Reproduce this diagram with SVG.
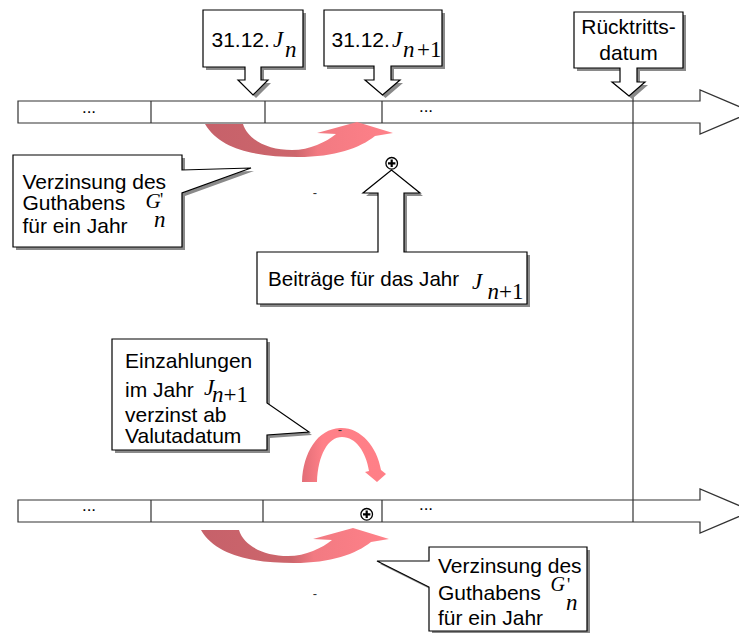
<svg xmlns="http://www.w3.org/2000/svg" width="739" height="633" viewBox="0 0 739 633">
<defs>
<style>
.shape{fill:#fff;stroke:#000;stroke-width:1.2}
.shadow{fill:#8a8a8a;stroke:none}
.bar{fill:#fff;stroke:#333;stroke-width:1.2}
.div{stroke:#333;stroke-width:1.2;fill:none}
.t{font-family:"Liberation Sans",Arial,sans-serif;font-size:21px;fill:#000}
.m{font-family:"Liberation Serif","Times New Roman",serif;font-style:italic;font-size:23px;fill:#000}
.mr{font-family:"Liberation Serif","Times New Roman",serif;font-size:23px;fill:#000}
.dots{font-family:"Liberation Sans",Arial,sans-serif;font-size:17px;fill:#000;text-anchor:middle}
.dash{font-family:"Liberation Sans",Arial,sans-serif;font-size:13px;fill:#333;text-anchor:middle}
.plusc{fill:#fff;stroke:#000;stroke-width:1.3}
.plusl{stroke:#000;stroke-width:2.2;fill:none}
.arc{fill:url(#gArc)}
.arch{fill:url(#gArch)}
</style>
<linearGradient id="gArc" x1="0" y1="0" x2="1" y2="0">
<stop offset="0" stop-color="#c6616a"/>
<stop offset="0.48" stop-color="#cd666c"/>
<stop offset="0.6" stop-color="#f27a82"/>
<stop offset="1" stop-color="#ff8189"/>
</linearGradient>
<linearGradient id="gArch" x1="0" y1="0" x2="1" y2="0">
<stop offset="0" stop-color="#e26e77"/>
<stop offset="0.25" stop-color="#ff8088"/>
<stop offset="1" stop-color="#ff7f87"/>
</linearGradient>
</defs>

<g id="timeline-top">
<path class="bar" d="M18,101 H700 V90 L752,112 L700,134 V123 H18 Z"/>
<path class="div" d="M151,101 V123 M265,101 V123 M382,101 V123"/>
<text class="dots" x="89" y="113">...</text>
<text class="dots" x="426" y="112">...</text>
</g>

<g id="timeline-bottom">
<path class="bar" d="M18,500 H700 V489 L752,511 L700,533 V522 H18 Z"/>
<path class="div" d="M151,500 V522 M263,500 V522 M382,500 V522"/>
<text class="dots" x="89" y="511">...</text>
<text class="dots" x="426" y="510">...</text>
</g>

<g id="connectors">
<path class="div" d="M633,96 V522"/>
<path id="arc-top" class="arc" d="M205,124 L243,124 C248,140 268,150 292,150 C310,150 326,142 336,134 L317,133 L357,122 L393,133 L375,136 C360,148 335,157 298,157 C258,157 220,150 205,124 Z"/>
<path id="arc-bottom" class="arc" transform="translate(-4,406)" d="M205,124 L243,124 C248,140 268,150 292,150 C310,150 326,142 336,134 L317,133 L357,122 L393,133 L375,136 C360,148 335,157 298,157 C258,157 220,150 205,124 Z"/>
<path id="arc-middle" class="arch" d="M302,482 C303,452 318,429 340,428 C360,427 377,446 381,470 L386,474 L377,482 L365,472 L369,471 C366,452 356,437 342,437 C328,437 318,455 317,482 Z"/>
</g>

<g id="box-jn">
<path class="shadow" transform="translate(3,3)" d="M203,10 H303 V67 H261 V80 H268 L253,95 L238,80 H245 V67 H203 Z"/>
<path class="shape" d="M203,10 H303 V67 H261 V80 H268 L253,95 L238,80 H245 V67 H203 Z"/>
<text class="t" x="211.5" y="46.5">31.12.</text>
<text class="m" x="273" y="46.5">J</text>
<text class="m" x="285" y="57">n</text>
</g>

<g id="box-jn1">
<path class="shadow" transform="translate(3,3)" d="M324,10 H442 V66 H391 V80 H400 L382.5,95 L365,80 H374 V66 H324 Z"/>
<path class="shape" d="M324,10 H442 V66 H391 V80 H400 L382.5,95 L365,80 H374 V66 H324 Z"/>
<text class="t" x="331.5" y="46.5">31.12.</text>
<text class="m" x="392" y="46.5">J</text>
<text class="m" x="403" y="57">n</text>
<text class="mr" x="417" y="57">+1</text>
</g>

<g id="box-ruecktritt">
<path class="shadow" transform="translate(3,3)" d="M574,12 H683 V68 H637 V82 H645 L629,96 L612,82 H620 V68 H574 Z"/>
<path class="shape" d="M574,12 H683 V68 H637 V82 H645 L629,96 L612,82 H620 V68 H574 Z"/>
<text class="t" x="628.5" y="34" text-anchor="middle">Rücktritts-</text>
<text class="t" x="628.5" y="60" text-anchor="middle">datum</text>
</g>

<g id="callout-verzinsung-top">
<path class="shadow" transform="translate(3,3)" d="M13,155 H182 V170 L251,168 L182,193 V247 H13 Z"/>
<path class="shape" d="M13,155 H182 V170 L251,168 L182,193 V247 H13 Z"/>
<text class="t" x="22.5" y="189">Verzinsung des</text>
<text class="t" x="22.5" y="210">Guthabens</text>
<text class="m" x="145.5" y="207.5" style="font-size:21px">G</text>
<text class="mr" x="160" y="206" style="font-size:18px">'</text>
<text class="m" x="154" y="227">n</text>
<text class="t" x="22.5" y="233">für ein Jahr</text>
</g>

<g id="plus-top">
<circle class="plusc" cx="391.7" cy="163.3" r="5.8"/>
<path class="plusl" d="M388,163.3 H395.4 M391.7,159.6 V167"/>
</g>

<g id="box-beitraege">
<path class="shadow" transform="translate(3,3)" d="M257,252 H378 V193 H363 L391.5,170 L420,193 H404 V252 H527 V304 H257 Z"/>
<path class="shape" d="M257,252 H378 V193 H363 L391.5,170 L420,193 H404 V252 H527 V304 H257 Z"/>
<text class="t" x="268" y="286" style="font-size:20.6px">Beiträge für das Jahr</text>
<text class="m" x="472" y="289">J</text>
<text class="m" x="487.5" y="298.5">n</text>
<text class="mr" x="499" y="298.5">+1</text>
</g>

<g id="callout-einzahlungen">
<path class="shadow" transform="translate(3,3)" d="M112,339 H267 V403 L309,432 L267,435 V450 H112 Z"/>
<path class="shape" d="M112,339 H267 V403 L309,432 L267,435 V450 H112 Z"/>
<text class="t" x="125" y="368">Einzahlungen</text>
<text class="t" x="125" y="397">im Jahr</text>
<text class="m" x="204" y="395">J</text>
<text class="m" x="212" y="401.5">n</text>
<text class="mr" x="223.5" y="401.5">+1</text>
<text class="t" x="125" y="421.5">verzinst ab</text>
<text class="t" x="125" y="443">Valutadatum</text>
</g>

<g id="plus-bottom">
<circle class="plusc" cx="366.7" cy="514.3" r="5.8"/>
<path class="plusl" d="M363,514.3 H370.4 M366.7,510.6 V518"/>
</g>

<g id="callout-verzinsung-bottom">
<path class="shadow" transform="translate(3,3)" d="M429,547 H587 V631 H429 V587 L377,561 L429,561 Z"/>
<path class="shape" d="M429,547 H587 V631 H429 V587 L377,561 L429,561 Z"/>
<text class="t" x="438" y="573">Verzinsung des</text>
<text class="t" x="438" y="600">Guthabens</text>
<text class="m" x="550.5" y="591" style="font-size:20px">G</text>
<text class="mr" x="567" y="591" style="font-size:18px">'</text>
<text class="m" x="566" y="610">n</text>
<text class="t" x="438" y="625">für ein Jahr</text>
</g>

<g id="marks">
<text class="dash" x="315" y="197">-</text>
<text class="dash" x="340" y="434">-</text>
<text class="dash" x="315" y="598">-</text>
</g>
</svg>
